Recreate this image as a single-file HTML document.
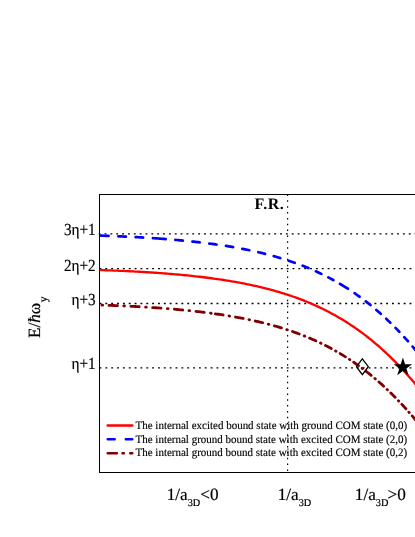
<!DOCTYPE html>
<html><head><meta charset="utf-8">
<style>
html,body{margin:0;padding:0;background:#fff;}
body{width:415px;height:537px;overflow:hidden;position:relative;font-family:"Liberation Serif",serif;}
svg{position:absolute;left:0;top:0;display:block;will-change:transform}
text{font-family:"Liberation Serif",serif;fill:#000;text-rendering:geometricPrecision}
</style></head><body>
<svg width="415" height="537" viewBox="0 0 415 537">
<rect width="415" height="537" fill="#fff"/>
<!-- dotted grid -->
<g stroke="#000" stroke-width="1.35" stroke-dasharray="1.9 3.95" fill="none">
<line x1="98.7" y1="233.9" x2="416" y2="233.9"/>
<line x1="99.5" y1="268.6" x2="416" y2="268.6"/>
<line x1="99.5" y1="303.5" x2="416" y2="303.5"/>
<line x1="99.5" y1="367.85" x2="416" y2="367.85"/>
</g>
<g stroke="#000" stroke-width="1.2" stroke-dasharray="1.5 4.35" fill="none">
<line x1="287.6" y1="194.5" x2="287.6" y2="472"/>
</g>
<!-- axes box -->
<g stroke="#000" stroke-width="1" fill="none" shape-rendering="crispEdges">
<line x1="99.5" y1="194" x2="99.5" y2="472"/>
<line x1="99" y1="194.5" x2="415" y2="194.5"/>
<line x1="99" y1="472.5" x2="415" y2="472.5"/>
</g>
<!-- curves -->
<g fill="none" stroke-linecap="round" stroke-linejoin="round">
<path id="blue" d="M101.05,235.65 L102.55,235.70 L104.05,235.75 L105.55,235.80 L107.05,235.85 L108.54,235.91 M118.37,236.29 L119.87,236.35 L121.37,236.42 L122.87,236.48 L124.37,236.55 L125.85,236.62 M135.66,237.11 L137.16,237.19 L138.66,237.27 L140.16,237.36 L141.66,237.44 L143.13,237.53 M152.93,238.14 L154.43,238.25 L155.93,238.35 L157.20,238.44 M158.25,238.51 L159.75,238.62 L161.25,238.73 L162.75,238.84 L164.25,238.96 L165.67,239.07 M175.38,239.88 L176.88,240.01 L178.38,240.15 L179.88,240.29 L181.38,240.43 L182.76,240.56 M192.41,241.54 L193.91,241.70 L195.41,241.87 L196.91,242.04 L198.41,242.21 L199.73,242.36 M209.29,243.55 L210.79,243.74 L212.29,243.95 L213.79,244.15 L215.29,244.36 L216.52,244.53 M225.96,245.95 L227.46,246.19 L228.96,246.44 L230.46,246.69 L231.96,246.94 L233.08,247.13 M242.33,248.82 L243.83,249.11 L245.33,249.41 L246.83,249.71 L248.33,250.02 L249.29,250.22 M258.30,252.21 L259.80,252.56 L261.30,252.92 L262.80,253.28 L264.30,253.65 L265.05,253.84 M273.75,256.15 L275.25,256.57 L276.75,257.00 L278.25,257.43 L279.75,257.88 L280.24,258.03 M288.57,260.66 L290.07,261.16 L291.57,261.67 L293.07,262.19 L294.57,262.71 L294.75,262.78 M302.64,265.72 L304.14,266.31 L305.64,266.92 L307.14,267.53 L308.48,268.08 M315.90,271.32 L317.40,272.00 L318.90,272.70 L320.40,273.41 L321.37,273.88 M328.32,277.37 L329.82,278.16 L331.32,278.96 L332.82,279.78 L333.43,280.11 M339.92,283.82 L341.42,284.72 L342.92,285.62 L343.20,285.80 M342.60,285.43 L344.10,286.35 L345.60,287.28 L347.10,288.23 L347.88,288.73 M354.59,293.20 L356.09,294.24 L357.59,295.30 L359.09,296.38 L359.53,296.70 M365.82,301.40 L367.32,302.57 L368.82,303.75 L370.32,304.95 L370.45,305.06 M376.34,309.95 L377.84,311.24 L379.34,312.55 L380.69,313.74 M386.22,318.79 L387.72,320.21 L389.22,321.64 L390.31,322.69 M395.52,327.87 L397.02,329.41 L398.52,330.97 L399.38,331.86 M404.30,337.15 L405.80,338.81 L407.30,340.48 L407.95,341.21 M412.62,346.59 L414.12,348.36 L415.62,350.15 L416.09,350.71" stroke="#0000ff" stroke-width="2.7"/>
<path id="red" d="M99.5,270.05 L101.5,270.11 L103.5,270.18 L105.5,270.24 L107.5,270.31 L109.5,270.39 L111.5,270.46 L113.5,270.54 L115.5,270.61 L117.5,270.70 L119.5,270.78 L121.5,270.86 L123.5,270.95 L125.5,271.04 L127.5,271.14 L129.5,271.23 L131.5,271.33 L133.5,271.44 L135.5,271.54 L137.5,271.65 L139.5,271.76 L141.5,271.87 L143.5,271.99 L145.5,272.11 L147.5,272.23 L149.5,272.36 L151.5,272.49 L153.5,272.62 L155.5,272.76 L157.5,272.90 L159.5,273.04 L161.5,273.19 L163.5,273.34 L165.5,273.49 L167.5,273.65 L169.5,273.81 L171.5,273.98 L173.5,274.15 L175.5,274.32 L177.5,274.50 L179.5,274.68 L181.5,274.87 L183.5,275.06 L185.5,275.26 L187.5,275.46 L189.5,275.66 L191.5,275.87 L193.5,276.09 L195.5,276.31 L197.5,276.53 L199.5,276.76 L201.5,277.00 L203.5,277.24 L205.5,277.49 L207.5,277.74 L209.5,278.00 L211.5,278.26 L213.5,278.53 L215.5,278.81 L217.5,279.10 L219.5,279.39 L221.5,279.68 L223.5,279.99 L225.5,280.30 L227.5,280.62 L229.5,280.94 L231.5,281.28 L233.5,281.62 L235.5,281.97 L237.5,282.33 L239.5,282.70 L241.5,283.07 L243.5,283.46 L245.5,283.85 L247.5,284.26 L249.5,284.67 L251.5,285.09 L253.5,285.53 L255.5,285.97 L257.5,286.43 L259.5,286.89 L261.5,287.37 L263.5,287.85 L265.5,288.35 L267.5,288.86 L269.5,289.39 L271.5,289.92 L273.5,290.47 L275.5,291.03 L277.5,291.61 L279.5,292.19 L281.5,292.80 L283.5,293.41 L285.5,294.04 L287.5,294.69 L289.5,295.35 L291.5,296.03 L293.5,296.72 L295.5,297.43 L297.5,298.15 L299.5,298.89 L301.5,299.65 L303.5,300.43 L305.5,301.23 L307.5,302.04 L309.5,302.88 L311.5,303.73 L313.5,304.60 L315.5,305.49 L317.5,306.41 L319.5,307.34 L321.5,308.29 L323.5,309.27 L325.5,310.27 L327.5,311.29 L329.5,312.33 L331.5,313.40 L333.5,314.49 L335.5,315.60 L337.5,316.74 L339.5,317.91 L341.5,319.09 L343.5,320.31 L345.5,321.55 L347.5,322.81 L349.5,324.10 L351.5,325.42 L353.5,326.77 L355.5,328.15 L357.5,329.55 L359.5,330.98 L361.5,332.44 L363.5,333.93 L365.5,335.45 L367.5,337.00 L369.5,338.58 L371.5,340.20 L373.5,341.84 L375.5,343.52 L377.5,345.22 L379.5,346.96 L381.5,348.74 L383.5,350.54 L385.5,352.38 L387.5,354.26 L389.5,356.17 L391.5,358.11 L393.5,360.09 L395.5,362.10 L397.5,364.15 L399.5,366.23 L401.5,368.35 L403.5,370.51 L405.5,372.70 L407.5,374.93 L409.5,377.20 L411.5,379.50 L413.5,381.84 L415.5,384.22 L417.5,386.63 L419.0,388.47" stroke="#ff0000" stroke-width="2.3" stroke-linecap="butt"/>
<path id="dred" d="M101.95,305.10 L102.65,305.12 M109.03,305.34 L110.53,305.40 L112.03,305.45 L113.53,305.51 L115.03,305.57 L116.53,305.63 L117.42,305.67 M123.80,305.94 L124.50,305.98 M130.88,306.28 L132.38,306.36 L133.88,306.44 L135.38,306.52 L136.88,306.60 L138.38,306.68 L139.24,306.73 M145.61,307.10 L146.31,307.15 M152.67,307.55 L154.17,307.66 L155.67,307.76 L157.17,307.87 L158.67,307.97 L160.17,308.08 L161.02,308.14 M167.36,308.64 L168.06,308.69 M174.40,309.23 L175.90,309.36 L177.40,309.49 L178.90,309.63 L180.40,309.77 L181.90,309.91 L182.70,309.99 M189.01,310.62 L189.70,310.69 M196.00,311.38 L197.50,311.55 L199.00,311.72 L200.50,311.90 L202.00,312.08 L203.50,312.26 L204.24,312.35 M210.50,313.16 L211.18,313.25 M215.30,313.82 L216.80,314.03 L218.30,314.25 L219.80,314.47 L221.30,314.69 L222.80,314.92 L223.11,314.97 M229.02,315.91 L229.67,316.02 M235.54,317.03 L237.04,317.30 L238.54,317.58 L240.04,317.86 L241.54,318.15 L243.04,318.44 L243.18,318.46 M248.95,319.63 L249.58,319.76 M255.29,321.01 L256.79,321.35 L258.29,321.70 L259.79,322.05 L261.29,322.41 L262.70,322.75 M268.27,324.17 L268.87,324.33 M274.36,325.83 L275.86,326.26 L277.36,326.69 L278.86,327.13 L280.36,327.58 L281.45,327.91 M286.75,329.59 L287.33,329.78 M292.53,331.54 L294.03,332.07 L295.53,332.60 L297.03,333.15 L298.53,333.71 L299.22,333.97 M304.21,335.90 L304.74,336.11 M309.61,338.13 L311.11,338.77 L312.61,339.42 L314.11,340.09 L315.61,340.77 L315.85,340.87 M320.48,343.04 L320.98,343.28 M325.49,345.52 L326.99,346.29 L328.49,347.07 L329.99,347.86 L331.25,348.54 M335.52,350.90 L335.98,351.17 M340.14,353.59 L341.64,354.49 L343.14,355.40 L344.64,356.33 L345.44,356.84 M349.37,359.36 L349.79,359.64 M353.62,362.21 L355.12,363.25 L356.62,364.30 L358.12,365.37 L358.50,365.64 M362.11,368.29 L362.50,368.59 M366.03,371.27 L366.10,371.33 M366.10,371.33 L367.60,372.50 L369.10,373.69 L370.60,374.90 L371.15,375.35 M374.90,378.47 L375.31,378.81 M378.96,381.96 L380.46,383.29 L381.96,384.64 L383.46,386.00 L383.62,386.16 M387.09,389.38 L387.46,389.74 M390.84,393.00 L392.34,394.48 L393.84,395.98 L395.17,397.32 M398.38,400.64 L398.73,401.00 M401.88,404.35 L403.38,405.98 L404.88,407.62 L405.91,408.77 M408.91,412.16 L409.24,412.53 M412.18,415.94 L413.68,417.71 L415.18,419.50 L415.96,420.44 M418.78,423.89 L419.00,424.16" stroke="#800000" stroke-width="2.8"/>
</g>
<!-- markers -->
<polygon points="362.35,358.9 368.3,366.7 362.35,374.6 356.4,366.7" fill="none" stroke="#000" stroke-width="1.3" stroke-linejoin="miter"/>
<polygon id="star" fill="#000" points="402.90,357.60 405.07,364.31 412.13,364.30 406.42,368.44 408.60,375.15 402.90,371.00 397.20,375.15 399.38,368.44 393.67,364.30 400.73,364.31"/>
<!-- legend -->
<g fill="none" stroke-width="2.45" stroke-linecap="round">
<path d="M107.7,425.4 H132.3" stroke="#ff0000"/>
<path d="M107.7,439.3 H114.7 M125.8,439.3 H132.3" stroke="#0000ff"/>
<path d="M107.7,453.3 H116.9 M122.5,453.3 H123.9 M130.2,453.3 H132.3" stroke="#800000"/>
</g>
<g font-size="11.4px" stroke="#000" stroke-width="0.15" text-rendering="geometricPrecision">
<text transform="translate(135.5,429.0) scale(0.965,1)">The internal excited bound state with ground COM state (0,0)</text>
<text transform="translate(135.5,442.8) scale(0.965,1)">The internal ground bound state with excited COM state (2,0)</text>
<text transform="translate(135.5,456.45) scale(0.965,1)">The internal ground bound state with excited COM state (0,2)</text>
</g>
<!-- F.R. -->
<text x="254.6" y="208.6" font-size="16px" font-weight="bold" letter-spacing="0.45">F.R.</text>
<!-- y tick labels -->
<g font-size="16.9px" text-anchor="end" stroke="#000" stroke-width="0.2">
<text transform="translate(95.6,235.4) scale(0.9,1)">3η+1</text>
<text transform="translate(95.6,270.8) scale(0.9,1)">2η+2</text>
<text transform="translate(95.6,305.1) scale(0.9,1)">η+3</text>
<text transform="translate(95.6,369.4) scale(0.9,1)">η+1</text>
</g>
<!-- y label -->
<g transform="translate(40.2,338) rotate(-90)">
<text x="0" y="0" font-size="17.2px" stroke="#000" stroke-width="0.2">E/<tspan font-style="italic">ħ</tspan>ω<tspan font-size="11.5px" dy="6.6" dx="0.5">y</tspan></text>
</g>
<!-- x labels -->
<g font-size="17.2px" stroke="#000" stroke-width="0.2">
<text x="166.7" y="500.2">1/a<tspan font-size="10.3px" dy="5.8">3D</tspan><tspan dy="-5.8">&lt;0</tspan></text>
<text x="277.7" y="500.2">1/a<tspan font-size="10.3px" dy="5.8">3D</tspan></text>
<text x="354.8" y="500.2">1/a<tspan font-size="10.3px" dy="5.8">3D</tspan><tspan dy="-5.8" dx="-0.8">&gt;0</tspan></text>
</g>
</svg>
</body></html>
